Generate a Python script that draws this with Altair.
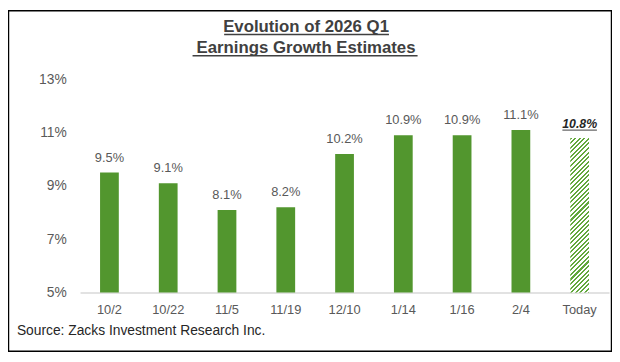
import altair as alt
import pandas as pd

# ---- data ----
dates = ["10/2", "10/22", "11/5", "11/19", "12/10", "1/14", "1/16", "2/4", "Today"]
growth = [9.5, 9.1, 8.1, 8.2, 10.2, 10.9, 10.9, 11.1, 10.8]
y_ticks = [5, 7, 9, 11, 13]
title_lines = ["Evolution of 2026 Q1", " Earnings Growth Estimates"]
source_text = "Source: Zacks Investment Research Inc."
highlight = "Today"

df = pd.DataFrame({"date": dates, "growth": growth})
one = pd.DataFrame({"k": [0]})

# ---- style ----
FONT = "Liberation Sans"
W, H = 536, 216
GREEN = "#52962E"
HATCH = "#62A83C"
TXT = "#595959"
DARK = "#262626"
TITLE_C = "#404040"
BAR_W = 19

# diagonal hatch built as a striped linear gradient
px_per_unit = H / (y_ticks[-1] - y_ticks[0])
hatch_h = (growth[dates.index(highlight)] - y_ticks[0]) * px_per_unit
period = 4.6
green_frac = 0.45
span = BAR_W + hatch_h
norm = BAR_W ** 2 + hatch_h ** 2
stops = []
k = 0
while k * period < span:
    t0 = min(k * period / span, 1)
    t1 = min((k + green_frac) * period / span, 1)
    t2 = min((k + 1) * period / span, 1)
    stops += [
        alt.GradientStop(color=HATCH, offset=t0),
        alt.GradientStop(color=HATCH, offset=t1),
        alt.GradientStop(color="#ffffff", offset=t1),
        alt.GradientStop(color="#ffffff", offset=t2),
    ]
    k += 1
hatch_fill = alt.LinearGradient(
    gradient="linear", stops=stops,
    x1=0, y1=0, x2=BAR_W * span / norm, y2=hatch_h * span / norm,
)

base = alt.Chart(df).encode(
    x=alt.X(
        "date:N", sort=dates,
        scale=alt.Scale(paddingInner=0, paddingOuter=0),
        axis=alt.Axis(
            title=None, labelAngle=0, labelFontSize=13, labelColor=TXT,
            labelFont=FONT, ticks=False, tickSize=0, labelPadding=11,
            domainColor="#d9d9d9", domainWidth=1.5, grid=False,
        ),
    ),
    y=alt.Y(
        "growth:Q",
        scale=alt.Scale(domain=[y_ticks[0], y_ticks[-1]], nice=False, zero=False),
        axis=alt.Axis(
            title=None, values=y_ticks, labelExpr="datum.value + '%'",
            labelFontSize=14, labelColor=TXT, labelFont=FONT, grid=False,
            domain=False, ticks=False, tickSize=0, labelPadding=14,
        ),
    ),
)

bars = base.mark_bar(width=BAR_W, color=GREEN).encode(
    y2=alt.datum(y_ticks[0])
).transform_filter(alt.datum.date != highlight)
hatch = base.mark_bar(width=BAR_W, color=hatch_fill).encode(
    y2=alt.datum(y_ticks[0])
).transform_filter(alt.datum.date == highlight)
labels = (
    base.mark_text(baseline="alphabetic", dy=-11, fontSize=13, font=FONT, color=TXT)
    .encode(text="label:N")
    .transform_filter(alt.datum.date != highlight)
    .transform_calculate(label="format(datum.growth, '.1f') + '%'")
)
hl_label = (
    base.mark_text(baseline="alphabetic", dy=-10, fontSize=12.5, font=FONT,
                   fontWeight="bold", fontStyle="italic", color=DARK)
    .encode(text="label:N")
    .transform_filter(alt.datum.date == highlight)
    .transform_calculate(label="format(datum.growth, '.1f') + '%'")
)
hl_under = base.mark_tick(
    orient="horizontal", size=35, thickness=1.2, yOffset=-8, color=DARK
).transform_filter(alt.datum.date == highlight)

t1 = alt.Chart(one).mark_text(
    text=title_lines[0], font=FONT, fontSize=17, fontWeight="bold",
    color=TITLE_C, baseline="alphabetic", align="center",
).encode(x=alt.value(229), y=alt.value(-48))
t2 = alt.Chart(one).mark_text(
    text=title_lines[1], font=FONT, fontSize=17, fontWeight="bold",
    color=TITLE_C, baseline="alphabetic", align="center",
).encode(x=alt.value(229), y=alt.value(-27))
u1 = alt.Chart(one).mark_rule(color=TITLE_C, strokeWidth=1.5).encode(
    x=alt.value(146), x2=alt.value(313), y=alt.value(-45.5)
)
u2 = alt.Chart(one).mark_rule(color=TITLE_C, strokeWidth=1.5).encode(
    x=alt.value(114), x2=alt.value(342), y=alt.value(-24)
)
src = alt.Chart(one).mark_text(
    text=source_text, font=FONT, fontSize=14, color=DARK,
    baseline="alphabetic", align="left",
).encode(x=alt.value(-64), y=alt.value(259))
border = alt.Chart(one).mark_rect(
    fill="transparent", stroke="#000000", strokeWidth=1.5
).encode(x=alt.value(-72.5), x2=alt.value(538.5), y=alt.value(-69.5), y2=alt.value(275.5))

chart = (
    alt.layer(bars, hatch, labels, hl_label, hl_under, t1, t2, u1, u2, src, border)
    .properties(
        width=W, height=H,
        autosize=alt.AutoSizeParams(type="none"),
        padding={"left": 73, "top": 70, "right": 3, "bottom": 60},
        background="#ffffff",
    )
    .configure_view(stroke=None)
)

chart.save("out.html", embed_options={"renderer": "svg", "actions": False})
